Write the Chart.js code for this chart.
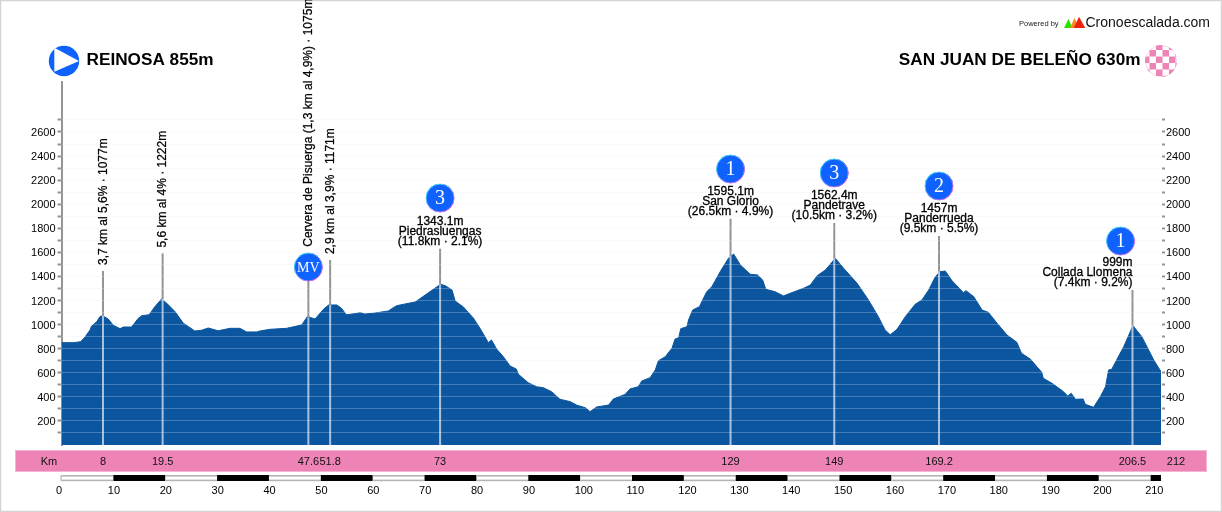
<!DOCTYPE html>
<html><head><meta charset="utf-8">
<style>html,body{margin:0;padding:0;background:#fff}canvas{display:block}</style>
<script src="https://cdn.jsdelivr.net/npm/chart.js@4"></script>
</head><body>
<canvas id="c" width="1222" height="512"></canvas>
<script>
const profileKm=[0,2.3,3.7,4.5,5.5,5.8,6.8,7.4,7.9,9,10,11.3,11.9,13.5,14.8,15.5,16.9,18,19.3,20.3,21.9,23.5,24.5,25.7,27,28.3,30.2,32.5,34.4,35.7,37.6,38.3,40.2,43.4,46.3,47.4,48.9,50.5,51.5,53.1,54,54.9,56.6,57.6,58.5,60.1,63,64.6,68.2,70.4,72,73.1,74,75.3,75.9,77.5,79.4,80.7,82.3,82.9,83.9,85.2,86.5,87.7,88.1,90,91.6,92.9,94.5,96.1,98.1,99.4,101,101.9,103.2,105.5,106.4,108.7,109.6,111.2,111.9,113.5,114.5,115.1,116.4,117.7,118.3,119,119.4,120.6,120.9,121.7,123,124.4,125.4,127,128.6,129.6,130.9,132.8,134.2,135.2,135.8,137.6,139.2,140.5,143.1,144.4,145.7,147.3,149.2,150.8,153.4,155.6,157.5,158.8,159.8,161.1,162.7,164.6,165.9,167.2,168.5,169.4,170.4,171.7,173.9,174.4,175.9,177.5,178.7,180.4,182.3,184.2,185.1,186.8,189,189.3,191,193.2,194,194.7,195.5,197,197.4,199,200.3,201.3,201.9,202.5,204.8,206.6,208.3,210.6,212];
const profileElev=[850,850,858,895,955,988,1024,1066,1074,1047,994,966,980,980,1052,1074,1082,1149,1213,1177,1107,1011,983,947,953,972,949,969,969,939,939,947,961,969,997,1066,1047,1127,1163,1163,1135,1082,1091,1099,1088,1094,1113,1157,1188,1254,1302,1335,1323,1287,1196,1146,1055,969,850,872,797,733,656,631,587,517,484,476,443,380,360,330,310,277,316,332,382,421,465,484,532,559,625,700,733,803,880,891,966,983,1038,1121,1149,1273,1315,1439,1551,1586,1495,1418,1412,1370,1293,1273,1238,1260,1302,1329,1406,1454,1551,1468,1343,1204,1066,955,916,961,1066,1169,1204,1287,1398,1439,1445,1365,1265,1282,1232,1121,1102,1011,914,853,762,714,604,554,512,443,407,429,380,382,338,313,401,484,623,629,816,991,900,706,609];

const markerKm=[8,19.5,47.6,51.8,73,129,149,169.2,206.5];
const markerElev=[1074,1213,1060,1163,1335,1570,1551,1440,991];
const markerTop=[1445,1590,1478,1536,1630,1880,1843,1736,1287];
const bandLabels=['8','19.5','47.6','51.8','73','129','149','169.2','206.5'];

const sideKm=[8,19.5,47.6,51.8];
const sideTop=[1445,1590,1597,1536];
const sideText=['3,7 km al 5,6% · 1077m','5,6 km al 4% · 1222m','Cervera de Pisuerga (1,3 km al 4,9%) · 1075m','2,9 km al 3,9% · 1171m'];

const peakKm=[73,129,149,169.2,206.5];
const peakTop=[1630,1880,1843,1736,1287];
const peakElevText=['1343.1m','1595.1m','1562.4m','1457m','999m'];
const peakName=['Piedrasluengas','San Glorio','Pandetrave','Panderrueda','Collada Llomena'];
const peakStats=['(11.8km · 2.1%)','(26.5km · 4.9%)','(10.5km · 3.2%)','(9.5km · 5.5%)','(7.4km · 9.2%)'];

const badgeKm=[47.6,73,129,149,169.2,204.2];
const badgeAlt=[1478,2051,2292,2259,2151,1694];
const badgeText=['MV','3','1','3','2','1'];

const startTitle='REINOSA 855m';
const finishTitle='SAN JUAN DE BELEÑO 630m';
const bandName='Km';
const bandEnd='212';
const FONT='"Liberation Sans", Arial, sans-serif';
const SERIF='"Liberation Serif", "Times New Roman", serif';
const FILL='#0B569F', PINK='#EE83B6', GREY='#949494';

const datasets=[];
datasets.push({data:badgeKm.map((x,i)=>({x,y:badgeAlt[i]})),showLine:false,pointRadius:14,pointHoverRadius:14,pointBackgroundColor:'#0F62FE',pointBorderWidth:0,order:1});
markerKm.forEach((x,i)=>{
  datasets.push({data:[{x,y:markerElev[i]},{x,y:markerTop[i]}],borderColor:GREY,borderWidth:2,pointRadius:0,order:5});
  datasets.push({data:[{x,y:0},{x,y:markerElev[i]}],borderColor:'#A9C1DC',borderWidth:2,pointRadius:0,order:4});
});
datasets.push({data:profileKm.map((x,i)=>({x,y:profileElev[i]})),fill:'origin',backgroundColor:FILL,borderColor:FILL,borderWidth:1,pointRadius:0,tension:0,order:10});

const yTicks=s=>{s.ticks=s.ticks.filter(t=>t.value>0&&t.value<=2700)};
const yLabel=v=>v%200===0?['',String(v)]:'';
const art={
  id:'art',
  beforeDraw(c){const g=c.ctx;g.save();g.fillStyle='#fff';g.fillRect(0,0,1222,512);g.restore();},
  afterDraw(c){
    const g=c.ctx,x=c.scales.x,y=c.scales.y;
    c.getDatasetMeta(0).controller.draw();
    g.save();
    g.lineWidth=1.5;g.strokeStyle='#d4d4d4';g.strokeRect(0.5,0.5,1221,511);
    c.getDatasetMeta(0).data.forEach((p,i)=>{
      const gr=g.createLinearGradient(p.x-10,p.y-10,p.x+10,p.y+10);
      gr.addColorStop(0,'#35E0F5');gr.addColorStop(1,'#E060F0');
      g.beginPath();g.arc(p.x,p.y,14,0,Math.PI*2);g.strokeStyle=gr;g.lineWidth=1;g.stroke();
      g.fillStyle='#fff';g.textAlign='center';g.textBaseline='middle';
      g.font=(badgeText[i]==='MV'?'14px ':'20px ')+SERIF;
      g.fillText(badgeText[i],p.x,p.y+1);
    });
    g.fillStyle='#000';g.font='12px '+FONT;g.strokeStyle='#000';g.lineWidth=0.25;
    sideKm.forEach((k,i)=>{
      g.save();g.translate(x.getPixelForValue(k),y.getPixelForValue(sideTop[i])-6);g.rotate(-Math.PI/2);
      g.textAlign='left';g.textBaseline='middle';g.fillText(sideText[i],0,0.5);g.strokeText(sideText[i],0,0.5);g.restore();
    });
    g.textBaseline='middle';g.lineWidth=0.3;g.strokeStyle='#000';
    peakKm.forEach((k,i)=>{
      const px=x.getPixelForValue(k),py=y.getPixelForValue(peakTop[i])-7;
      g.textAlign=i===4?'right':'center';
      [peakStats[i],peakName[i],peakElevText[i]].forEach((t,r)=>{
        g.fillText(t,px,py-r*10);g.strokeText(t,px,py-r*10);
      });
    });
    g.fillStyle=PINK;g.fillRect(15,450,1192,22);
    g.strokeStyle='#F6B4D3';g.lineWidth=1;g.strokeRect(15.5,450.5,1191,21);
    g.fillStyle='#111';g.font='11px '+FONT;g.textAlign='center';
    g.fillText(bandName,49,461.5);
    markerKm.forEach((k,i)=>g.fillText(bandLabels[i],x.getPixelForValue(k),461.5));
    g.fillText(bandEnd,x.getPixelForValue(212)+15,461.5);
    x.ticks.forEach(t=>{
      const a=x.getPixelForValue(t.value),b=x.getPixelForValue(Math.min(t.value+10,212));
      if(t.value%20===10||t.value===210){g.fillStyle='#000';g.fillRect(a,475,b-a,6);}
      else{g.fillStyle='#B4B4B4';g.fillRect(a,475,b-a,1.6);g.fillRect(a,479.6,b-a,1.6);}
    });
    g.fillStyle='#B4B4B4';g.fillRect(60.5,475,1.2,6);
    g.fillStyle='#0F62FE';g.beginPath();g.arc(64,61,15.2,0,Math.PI*2);g.fill();
    g.fillStyle='#fff';g.beginPath();g.moveTo(54.3,47.7);g.lineTo(79,61);g.lineTo(54.3,71.7);g.closePath();g.fill();
    g.save();g.beginPath();g.arc(1161,61,16,0,Math.PI*2);g.clip();
    g.fillStyle=PINK;
    for(let r=0;r<6;r++)for(let q=0;q<6;q++){if((r+q)%2===0)g.fillRect(1143+q*6.5,43.5+r*6.5,6.5,6.5);}
    g.restore();
    g.beginPath();g.arc(1161,61,15.5,0,Math.PI*2);g.strokeStyle='rgba(238,131,182,0.35)';g.lineWidth=1;g.stroke();
    g.fillStyle='#000';g.font='bold 17.2px '+FONT;g.textBaseline='middle';
    g.textAlign='left';g.fillText(startTitle,86.5,60.5);
    g.textAlign='right';g.fillText(finishTitle,1140.5,60.5);
    [['#2EE000',1064,1072.7,1068.4,19],['#F58A1F',1070,1079,1074.5,18],['#F02010',1073.7,1085.3,1079,16.7]].forEach(a=>{
      g.fillStyle=a[0];g.beginPath();g.moveTo(a[1],28);g.lineTo(a[2],28);g.lineTo(a[3],a[4]);g.closePath();g.fill();
    });
    g.fillStyle='#222';g.textAlign='left';g.font='7.5px '+FONT;g.fillText('Powered by',1019,23.5);
    g.fillStyle='#111';g.font='14px '+FONT;g.fillText('Cronoescalada.com',1085.5,23.5);
    g.restore();
  }
};
const tickFont={family:FONT,size:11,lineHeight:'2px'};
new Chart(document.getElementById('c'),{
  type:'line',
  data:{datasets},
  plugins:[art],
  options:{
    responsive:false,animation:false,
    layout:{padding:{top:82,left:0,right:0,bottom:0}},
    plugins:{legend:{display:false},tooltip:{enabled:false},title:{display:false}},
    events:[],
    scales:{
      x:{type:'linear',min:0,max:212,
        grid:{display:false},border:{display:false},
        afterBuildTicks:s=>{s.ticks=s.ticks.filter(t=>t.value%10===0)},
        afterFit:s=>{s.height=67},
        ticks:{stepSize:10,includeBounds:false,autoSkip:false,maxRotation:0,padding:31,align:'start',labelOffset:-5.5,color:'#000',font:{family:FONT,size:11}}},
      y:{position:'left',min:0,max:3015,
        grid:{color:'rgba(0,0,0,0.025)',tickColor:GREY,tickLength:4,tickWidth:2,z:-1},
        border:{color:GREY,width:2},
        afterBuildTicks:yTicks,afterFit:s=>{s.width=61.5},
        ticks:{stepSize:100,includeBounds:false,autoSkip:false,padding:2,color:'#000',font:tickFont,callback:yLabel}},
      y2:{position:'right',min:0,max:3015,
        grid:{color:'rgba(255,255,255,0.24)',tickColor:GREY,tickLength:4,tickWidth:2,z:1},
        border:{color:GREY,width:2},
        afterBuildTicks:yTicks,afterFit:s=>{s.width=61},
        ticks:{stepSize:100,includeBounds:false,autoSkip:false,padding:1,color:'#000',font:tickFont,callback:yLabel}}
    }
  }
});
</script>
</body></html>
